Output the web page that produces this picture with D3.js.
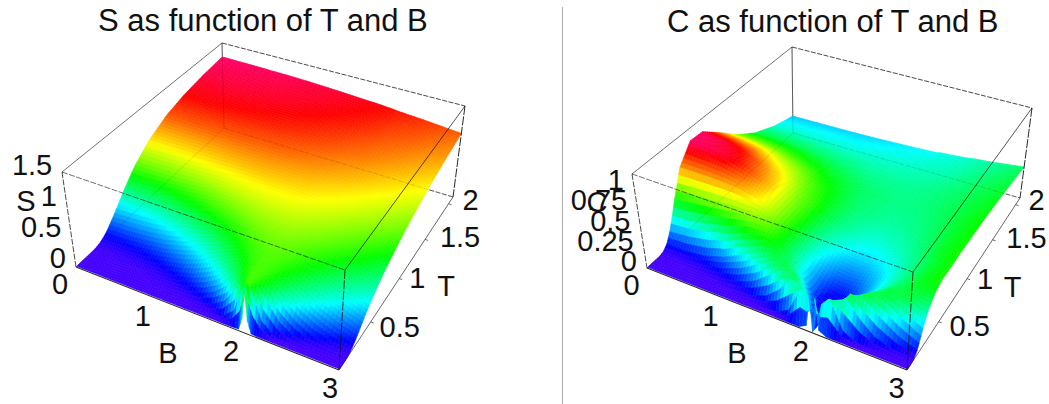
<!DOCTYPE html>
<html>
<head>
<meta charset="utf-8">
<title>S and C as function of T and B</title>
<script src="https://cdn.jsdelivr.net/npm/d3@7"></script>
<style>
  html, body { margin: 0; padding: 0; background: #fff; }
  text { font-family: "Liberation Sans", Arial, sans-serif; fill: #111; }
</style>
</head>
<body>
<div id="chart"></div>
<script>
// grid the surfaces were read on
const bValues = [0, 0.25, 0.5, 0.75, 1, 1.2, 1.4, 1.55, 1.7, 1.85, 1.93, 1.97, 2, 2.03, 2.07, 2.15, 2.3, 2.45, 2.6, 2.8, 3];
const tValues = [0.01, 0.05, 0.1, 0.15, 0.2, 0.25, 0.3, 0.35, 0.4, 0.5, 0.65, 0.8, 1, 1.25, 1.5, 1.8, 2.1];

// one row per T value, one column per B value
const sValues = [
  [0, 0, 0, 0, 0, 0, 0, 0, 0, 0, .006, .191, .693, .191, .006, 0, 0, 0, 0, 0, 0],
  [0, 0, 0, 0, 0, 0, 0, .001, .017, .191, .5, .645, .693, .645, .5, .191, .017, .001, 0, 0, 0],
  [0, 0, 0, 0, 0, .003, .017, .06, .191, .474, .63, .685, .693, .685, .63, .474, .191, .06, .017, .003, 0],
  [0, 0, 0, .002, .009, .03, .09, .191, .365, .582, .665, .69, .693, .69, .665, .582, .365, .191, .09, .03, .009],
  [.001, .002, .005, .014, .04, .09, .191, .314, .474, .627, .68, .69, .693, .69, .68, .627, .474, .314, .191, .09, .04],
  [.009, .01, .017, .04, .09, .165, .286, .408, .541, .645, .685, .692, .693, .692, .685, .645, .541, .408, .286, .165, .09],
  [.029, .037, .052, .089, .16, .25, .373, .482, .589, .669, .687, .697, .698, .697, .685, .667, .586, .476, .367, .24, .149],
  [.066, .073, .1, .15, .233, .327, .445, .538, .624, .683, .7, .705, .705, .704, .7, .681, .616, .527, .43, .308, .21],
  [.119, .135, .161, .216, .309, .402, .507, .587, .654, .699, .708, .713, .714, .713, .706, .693, .642, .569, .485, .373, .274],
  [.262, .28, .31, .372, .455, .533, .613, .666, .71, .734, .738, .741, .74, .739, .733, .723, .684, .632, .568, .473, .383],
  [.502, .51, .542, .59, .648, .7, .74, .77, .787, .796, .796, .795, .792, .79, .786, .776, .748, .71, .662, .6, .512],
  [.714, .72, .738, .765, .799, .825, .845, .855, .861, .861, .858, .854, .851, .848, .843, .833, .808, .775, .738, .68, .614],
  [.919, .92, .927, .935, .947, .952, .956, .953, .949, .94, .934, .929, .926, .922, .918, .908, .885, .857, .826, .78, .725],
  [1.078, 1.078, 1.076, 1.074, 1.072, 1.067, 1.061, 1.052, 1.041, 1.027, 1.019, 1.014, 1.01, 1.006, 1.001, .991, .969, .945, .918, .88, .835],
  [1.172, 1.171, 1.169, 1.161, 1.152, 1.143, 1.132, 1.121, 1.108, 1.094, 1.086, 1.081, 1.077, 1.073, 1.068, 1.059, 1.039, 1.016, .993, .96, .923],
  [1.239, 1.237, 1.233, 1.225, 1.216, 1.205, 1.194, 1.181, 1.168, 1.155, 1.148, 1.143, 1.139, 1.135, 1.131, 1.122, 1.097, 1.08, 1.065, 1.035, 1.005],
  [1.28, 1.277, 1.272, 1.265, 1.258, 1.246, 1.234, 1.222, 1.21, 1.197, 1.192, 1.189, 1.187, 1.184, 1.18, 1.17, 1.15, 1.135, 1.12, 1.095, 1.07]
];
const cValues = [
  [0, 0, 0, 0, 0, 0, 0, 0, 0, 0, .045, .41, 0, .41, .045, 0, 0, 0, 0, 0, 0],
  [0, 0, 0, 0, 0, 0, 0, .01, .089, .407, .311, .082, 0, .082, .311, .407, .089, .01, 0, 0, 0],
  [0, 0, 0, 0, .005, .021, .089, .22, .407, .335, .109, .022, 0, .022, .109, .335, .407, .22, .089, .021, .005],
  [0, 0, .005, .016, .056, .136, .283, .407, .42, .197, .054, .01, 0, .01, .054, .197, .42, .407, .283, .136, .056],
  [.014, .015, .031, .074, .165, .283, .407, .435, .335, .123, .03, .005, .002, .005, .03, .123, .335, .435, .407, .283, .165],
  [.064, .06, .089, .165, .283, .386, .439, .394, .256, .082, .02, .006, .01, .006, .02, .082, .256, .394, .439, .386, .283],
  [.168, .19, .237, .31, .427, .482, .465, .378, .234, .092, .044, .032, .028, .03, .04, .082, .216, .349, .433, .431, .37],
  [.317, .333, .386, .453, .527, .535, .461, .356, .222, .104, .066, .057, .054, .055, .058, .09, .192, .312, .405, .441, .419],
  [.485, .51, .538, .575, .606, .558, .464, .351, .228, .13, .098, .089, .087, .087, .089, .11, .189, .291, .384, .458, .468],
  [.79, .79, .788, .766, .702, .606, .476, .37, .262, .191, .165, .158, .154, .155, .154, .165, .212, .285, .364, .448, .504],
  [1, .985, .946, .85, .743, .61, .5, .4, .333, .278, .259, .253, .246, .245, .244, .245, .27, .31, .364, .44, .498],
  [.99, .965, .914, .81, .708, .59, .505, .43, .38, .34, .32, .314, .312, .31, .306, .306, .322, .35, .389, .45, .504],
  [.821, .8, .763, .69, .616, .54, .483, .437, .397, .377, .37, .365, .362, .36, .357, .356, .364, .38, .405, .45, .496],
  [.601, .592, .571, .533, .495, .46, .431, .41, .395, .387, .382, .378, .376, .376, .376, .376, .381, .397, .416, .45, .487],
  [.436, .432, .424, .41, .393, .38, .368, .36, .358, .358, .359, .36, .36, .36, .36, .366, .376, .39, .407, .435, .468],
  [.309, .307, .305, .303, .301, .302, .304, .307, .31, .317, .32, .322, .324, .326, .328, .332, .339, .36, .38, .408, .435],
  [.226, .228, .23, .233, .236, .242, .249, .255, .26, .268, .272, .275, .285, .287, .29, .295, .31, .33, .345, .37, .397]
];

const bTicks = [0, 1, 2, 3];
const tTicks = [0.5, 1, 1.5, 2];
const sTicks = [0, 0.5, 1, 1.5];
const cTicks = [0, 0.25, 0.5, 0.75, 1];

const width = 1049;
const height = 404;

const svg = d3.select("#chart").append("svg")
  .attr("width", width)
  .attr("height", height)
  .style("display", "block");

// the picture's grey rule between the two plots
svg.append("line")
  .attr("x1", 562.5).attr("x2", 562.5)
  .attr("y1", 7).attr("y2", 404)
  .attr("stroke", "#b4b4b4")
  .attr("stroke-width", 1.2);

// maps the unit square onto a quad, so the box keeps its perspective
function quadProjection(p00, p10, p11, p01) {
  const dx1 = p10[0] - p11[0], dx2 = p01[0] - p11[0], sx = p00[0] - p10[0] + p11[0] - p01[0];
  const dy1 = p10[1] - p11[1], dy2 = p01[1] - p11[1], sy = p00[1] - p10[1] + p11[1] - p01[1];
  const den = dx1 * dy2 - dx2 * dy1;
  const g = (sx * dy2 - dx2 * sy) / den;
  const h = (dx1 * sy - sx * dy1) / den;
  const a = p10[0] - p00[0] + g * p10[0], b = p01[0] - p00[0] + h * p01[0];
  const d = p10[1] - p00[1] + g * p10[1], e = p01[1] - p00[1] + h * p01[1];
  return (u, v) => {
    const w = g * u + h * v + 1;
    return [(a * u + b * v + p00[0]) / w, (d * u + e * v + p00[1]) / w];
  };
}

function drawEdges(parent, edges) {
  parent.append("g").selectAll("line")
    .data(edges)
    .enter().append("line")
    .attr("x1", d => d.a[0]).attr("y1", d => d.a[1])
    .attr("x2", d => d.b[0]).attr("y2", d => d.b[1])
    .attr("stroke", "#111")
    .attr("stroke-opacity", d => d.o)
    .attr("stroke-width", d => d.w)
    .attr("stroke-dasharray", d => d.dash);
}

function drawPlot(cfg) {
  const g = svg.append("g");

  const floor = quadProjection(cfg.floor[0], cfg.floor[1], cfg.floor[2], cfg.floor[3]);
  const roof = quadProjection(cfg.roof[0], cfg.roof[1], cfg.roof[2], cfg.roof[3]);

  const x = d3.scaleLinear().domain([0, 3]).range([0, 1]);
  const y = d3.scaleLinear().domain([0, 2.1]).range([0, 1]);
  const z = d3.scaleLinear().domain([0, cfg.zMax]).range([0, 1]);
  const hue = d3.scaleLinear().domain([0, d3.max(cfg.values.flat())]).range([256, -24]);

  const project = (b, t, val) => {
    const f = floor(x(b), y(t));
    const r = roof(x(b), y(t));
    const w = z(val);
    return [f[0] + (r[0] - f[0]) * w, f[1] + (r[1] - f[1]) * w];
  };

  const [f00, f10, f11, f01] = cfg.floor;
  const [r00, r10, r11, r01] = cfg.roof;

  // edges the surface hides: dark behind it, a faint copy over it
  drawEdges(g, [
    { a: r01, b: f01, o: 0.8, w: 0.8, dash: null },
    { a: f00, b: f01, o: 0.6, w: 0.7, dash: null },
    { a: f01, b: f11, o: 0.8, w: 0.8, dash: "5 1.5" }
  ]);

  // painter's order: far T first, B towards the near corner.
  // Each cell is shaded in small steps so the hue runs smoothly across it.
  const quads = [];
  for (let i = tValues.length - 2; i >= 0; i--) {
    const nt = Math.ceil((tValues[i + 1] - tValues[i]) / 0.03);
    for (let st = nt - 1; st >= 0; st--) {
      for (let j = 0; j < bValues.length - 1; j++) {
        const nb = Math.ceil((bValues[j + 1] - bValues[j]) / 0.04);
        for (let sb = 0; sb < nb; sb++) {
          const at = (p, q) => {
            const tt = (st + q) / nt, tb = (sb + p) / nb;
            const val = d3.interpolateNumber(
              d3.interpolateNumber(cfg.values[i][j], cfg.values[i][j + 1])(tb),
              d3.interpolateNumber(cfg.values[i + 1][j], cfg.values[i + 1][j + 1])(tb)
            )(tt);
            return {
              b: bValues[j] + (bValues[j + 1] - bValues[j]) * tb,
              t: tValues[i] + (tValues[i + 1] - tValues[i]) * tt,
              val
            };
          };
          quads.push([at(0, 0), at(1, 0), at(1, 1), at(0, 1)]);
        }
      }
    }
  }

  const line = d3.line();
  const colorOf = q => d3.hsl(hue(d3.mean(q, c => c.val)), 1, 0.5).formatHex();

  g.append("g").selectAll("path")
    .data(quads)
    .enter().append("path")
    .attr("d", q => line(q.map(c => project(c.b, c.t, c.val))) + "Z")
    .attr("fill", colorOf)
    .attr("stroke", colorOf)
    .attr("stroke-width", 0.6);

  // box edges, drawn over the surface
  drawEdges(g, [
    { a: r00, b: r01, o: 0.75, w: 0.8, dash: null },
    { a: r01, b: r11, o: 0.85, w: 0.9, dash: "5 1.5" },
    { a: r00, b: r10, o: 0.75, w: 0.8, dash: "6 1.5" },
    { a: r10, b: r11, o: 0.9, w: 0.8, dash: null },
    { a: r00, b: f00, o: 0.85, w: 0.9, dash: "6 1.5" },
    { a: r10, b: f10, o: 0.8, w: 1, dash: "9 1.5" },
    { a: r11, b: f11, o: 0.9, w: 1, dash: "9 1.5" },
    { a: f00, b: f10, o: 0.9, w: 1.1, dash: null },
    { a: f10, b: f11, o: 0.8, w: 0.8, dash: null },
    { a: r01, b: f01, o: 0.2, w: 0.7, dash: null },
    { a: f00, b: f01, o: 0.12, w: 0.7, dash: null },
    { a: f01, b: f11, o: 0.2, w: 0.7, dash: "5 1.5" }
  ]);

  // small ticks along the T edge
  g.append("g").selectAll("line")
    .data(tTicks)
    .enter().append("line")
    .attr("x1", d => floor(1, y(d))[0]).attr("y1", d => floor(1, y(d))[1])
    .attr("x2", d => floor(1, y(d))[0] + 3).attr("y2", d => floor(1, y(d))[1] + 1)
    .attr("stroke", "#333")
    .attr("stroke-width", 0.7);

  const label = (sel, data, fx, anchor) => sel.selectAll("text")
    .data(data)
    .enter().append("text")
    .attr("x", (d, i) => fx(d, i)[0])
    .attr("y", (d, i) => fx(d, i)[1])
    .attr("dy", "0.36em")
    .attr("text-anchor", anchor)
    .attr("font-size", 29)
    .text(d => d);

  label(g.append("g"), bTicks, (d, i) => {
    const p = floor(x(d), 0);
    return [p[0] + cfg.bOffsets[i][0], p[1] + cfg.bOffsets[i][1]];
  }, "middle");

  label(g.append("g"), tTicks, (d, i) => {
    const p = floor(1, y(d));
    return [p[0] + cfg.tOffsets[i][0], p[1] + cfg.tOffsets[i][1]];
  }, "middle");

  label(g.append("g"), cfg.zTicks, d => {
    const p = project(0, 0, d);
    return [p[0] + cfg.zOffset[0], p[1] + cfg.zOffset[1]];
  }, "end");

  // axis names
  cfg.names.forEach(n => {
    g.append("text")
      .attr("x", n.x).attr("y", n.y).attr("dy", "0.36em")
      .attr("text-anchor", "middle")
      .attr("font-size", 29)
      .text(n.text);
  });

  g.append("text")
    .attr("x", cfg.titleX).attr("y", cfg.titleY)
    .attr("font-size", 31)
    .text(cfg.title);
}

drawPlot({
  title: "S as function of T and B",
  titleX: 98, titleY: 31,
  values: sValues,
  zTicks: sTicks,
  zMax: 1.53,
  floor: [[76, 267], [339, 370], [453, 197], [224, 128]],
  roof: [[62, 172], [345, 270], [465, 106], [222, 43]],
  bOffsets: [[-16, 16.5], [-14, 16.5], [-13, 17.5], [-9, 18]],
  zOffset: [-10, -9],
  tOffsets: [[29, 5], [18, -1], [35, -3], [22, -4]],
  names: [{ text: "S", x: 26, y: 201 }, { text: "B", x: 168, y: 352.5 }, { text: "T", x: 446, y: 286 }]
});

drawPlot({
  title: "C as function of T and B",
  titleX: 667, titleY: 32,
  values: cValues,
  zTicks: cTicks,
  zMax: 1.15,
  floor: [[647, 268], [907, 370], [1020, 198], [793, 133]],
  roof: [[632, 174], [913, 272], [1032, 108], [792, 47]],
  bOffsets: [[-15.5, 16.5], [-15, 16.5], [-11, 17.5], [-10.5, 18]],
  zOffset: [-10, -7],
  tOffsets: [[31, 4], [18, 0], [34, -2], [21, -5]],
  names: [{ text: "C", x: 597, y: 202 }, { text: "B", x: 737, y: 353 }, { text: "T", x: 1012.5, y: 287 }]
});
</script>
</body>
</html>
